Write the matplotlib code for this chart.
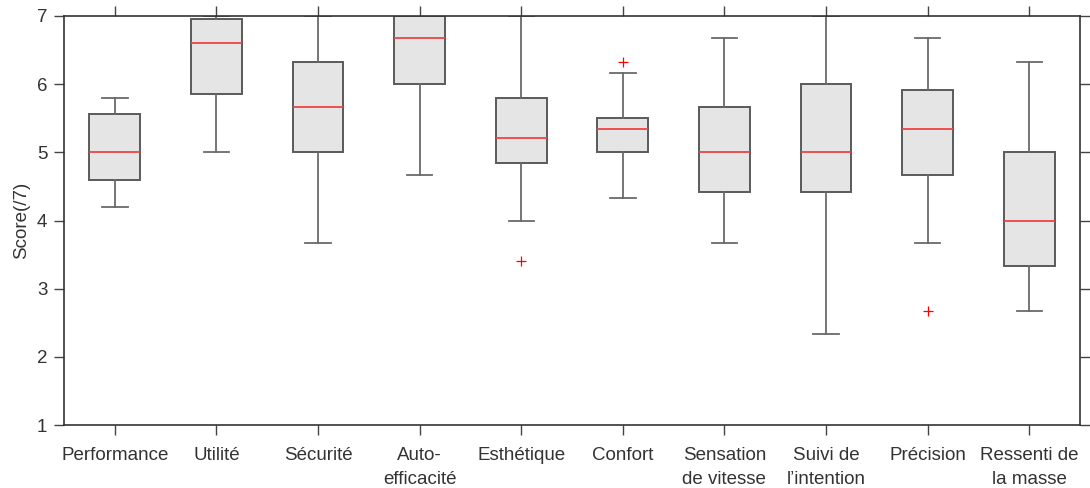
import matplotlib
matplotlib.use("Agg")
import matplotlib.pyplot as plt

categories = ["Performance", "Utilité", "Sécurité", "Auto-\nefficacité", "Esthétique",
              "Confort", "Sensation\nde vitesse", "Suivi de\nl\u2019intention", "Précision",
              "Ressenti de\nla masse"]
whislo = [4.20, 5.00, 3.67, 4.67, 4.00, 4.33, 3.67, 2.33, 3.67, 2.67]
q1     = [4.60, 5.85, 5.00, 6.00, 4.85, 5.00, 4.42, 4.42, 4.67, 3.33]
med    = [5.00, 6.60, 5.67, 6.67, 5.21, 5.34, 5.00, 5.00, 5.34, 4.00]
q3     = [5.56, 6.95, 6.33, 7.00, 5.80, 5.50, 5.67, 6.00, 5.92, 5.00]
whishi = [5.80, 7.00, 7.00, 7.00, 7.00, 6.17, 6.67, 7.00, 6.67, 6.33]
fliers = [[], [], [], [], [3.40], [6.33], [], [], [2.67], []]

plt.rcParams['font.family'] = ['Liberation Sans', 'DejaVu Sans']

fig = plt.figure(figsize=(10.9, 4.88), dpi=100)
ax = fig.add_axes([64/1090, 63/488, 1016/1090, 409/488])

stats = []
for i in range(len(categories)):
    stats.append(dict(whislo=whislo[i], q1=q1[i], med=med[i], q3=q3[i],
                      whishi=whishi[i], fliers=fliers[i]))

edge = '#5a5a5a'
ax.bxp(stats, positions=range(1, 11), widths=0.5, patch_artist=True,
       boxprops=dict(facecolor='#e5e5e5', edgecolor=edge, linewidth=1.4),
       whiskerprops=dict(color='#6a6a6a', linewidth=1.3),
       capprops=dict(color='#6a6a6a', linewidth=1.3),
       medianprops=dict(color='#ee4444', linewidth=1.3),
       flierprops=dict(marker='+', markeredgecolor='red', markersize=7,
                       markeredgewidth=0.9, linestyle='none'),
       capwidths=0.25, zorder=2)

ax.set_xlim(0.5, 10.5)
ax.set_ylim(1, 7)
ax.set_yticks([1, 2, 3, 4, 5, 6, 7])
ax.set_xticks(range(1, 11))
ax.set_xticklabels(categories, linespacing=1.5)
ax.tick_params(axis='both', direction='out', length=7, width=1, color='#444444',
               labelsize=13.5, labelcolor='#333333', top=True, right=True)
ax.tick_params(axis='x', pad=9)
ax.tick_params(axis='y', pad=5)
for s in ax.spines.values():
    s.set_color('#333333')
    s.set_linewidth(1.2)
ax.set_ylabel("Score(/7)", fontsize=13.5, color='#333333', labelpad=5)

fig.savefig("out.png", dpi=100)
